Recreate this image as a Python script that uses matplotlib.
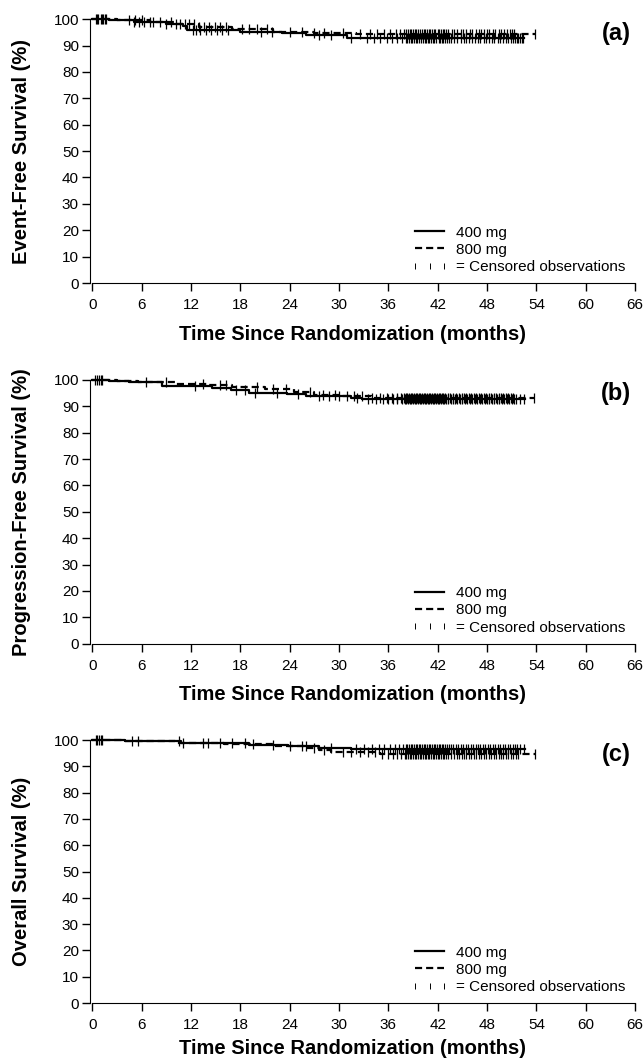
import numpy as np
import matplotlib
matplotlib.use('Agg')
import matplotlib.pyplot as plt
from matplotlib.lines import Line2D

plt.rcParams['font.family'] = ['Liberation Sans', 'DejaVu Sans']

# ---------------- data ----------------
xticks = list(range(0, 67, 6))
yticks = list(range(0, 101, 10))

ylabels = ['Event-Free Survival (%)', 'Progression-Free Survival (%)', 'Overall Survival (%)']
tags = ['(a)', '(b)', '(c)']

# panel (a) event-free survival
a400_t = [0, 2, 5, 9, 11, 11.5, 18, 23, 26, 31, 52.5]
a400_s = [100, 99.5, 99, 98, 97.3, 95.8, 95.3, 94.8, 94, 93, 93]
a800_t = [0, 3, 7, 10, 13, 17, 22, 27, 32, 53.8]
a800_s = [100, 99.5, 98.8, 98, 97.2, 96.2, 95.3, 94.6, 94.2, 94.2]
a400_c = [0.4, 0.7, 1.0, 1.3, 1.7, 5.0, 5.6, 6.3, 7.4, 8.2, 9.0, 10.2, 12.2, 12.6, 13.1,
          13.8, 14.4, 15.1, 15.8, 16.5, 20.5, 21.8, 27.5, 29.0, 31.5, 33.4, 34.2, 35.0,
          35.8, 36.4, 37.0, 37.6, 38.1, 38.3, 38.5, 38.7, 38.9, 39.1, 39.3, 39.5, 39.7,
          40.0, 40.2, 40.4, 40.6, 40.8, 41.0, 41.2, 41.4, 41.6, 41.8, 42.1, 42.3, 42.5,
          42.7, 42.9, 43.1, 43.4, 43.6, 44.0, 44.4, 44.8, 45.2, 45.5, 45.8, 46.2, 46.5,
          46.9, 47.2, 47.6, 47.9, 48.3, 48.6, 48.9, 49.3, 49.6, 50.0, 50.3, 50.6, 50.9,
          51.2, 51.4, 51.6, 51.8, 52.0, 52.2, 52.4]
a800_c = [0.6, 1.1, 1.5, 4.4, 5.2, 6.0, 7.0, 9.5, 10.6, 11.2, 11.8, 12.4, 13.0, 13.6,
          14.2, 14.9, 15.5, 16.2, 18.2, 19.0, 20.0, 21.2, 24.0, 25.5, 27.0, 28.2, 30.5,
          32.5, 33.8, 34.6, 35.5, 36.2, 36.9, 37.4, 37.9, 38.2, 38.4, 38.6, 38.8, 39.0,
          39.2, 39.4, 39.6, 39.9, 40.1, 40.3, 40.5, 40.7, 40.9, 41.1, 41.3, 41.5, 41.7,
          42.0, 42.2, 42.4, 42.6, 42.8, 43.0, 43.3, 43.7, 44.0, 44.4, 44.8, 45.1, 45.5,
          45.9, 46.2, 46.6, 47.0, 47.3, 47.6, 48.0, 48.3, 48.7, 49.0, 49.4, 49.7, 50.1,
          50.4, 50.8, 51.0, 51.3, 53.8]

# panel (b) progression-free survival
b400_t = [0, 2, 4.4, 8.5, 14.5, 16.8, 19, 23.7, 26, 31.5, 32.8, 52.6]
b400_s = [100, 99.5, 99, 97.5, 96.8, 96, 95.2, 94.8, 94, 93.3, 92.7, 92.7]
b800_t = [0, 3, 5.5, 10, 14, 17, 21, 24.5, 27, 30, 34, 53.7]
b800_s = [100, 99.5, 99, 98.5, 98, 97.2, 96.5, 95.3, 94.4, 94, 93, 93]
b400_c = [0.3, 0.8, 1.2, 6.5, 12.5, 17.5, 18.5, 19.8, 22.5, 25.0, 27.5, 28.8, 30.0, 31.0,
          32.2, 33.5, 34.5, 35.3, 36.0, 36.6, 37.1, 37.6, 38.0, 38.2, 38.4, 38.6, 38.8,
          39.0, 39.2, 39.4, 39.6, 39.8, 40.0, 40.2, 40.4, 40.6, 40.8, 41.0, 41.2, 41.4,
          41.6, 41.8, 42.0, 42.2, 42.4, 42.6, 42.8, 43.0, 43.3, 43.6, 43.8, 44.1, 44.4,
          44.7, 45.0, 45.3, 45.6, 45.9, 46.2, 46.5, 46.8, 47.1, 47.4, 47.7, 48.0, 48.3,
          48.6, 48.9, 49.2, 49.5, 49.8, 50.1, 50.4, 50.7, 51.0, 51.3, 51.5, 52.0, 52.5]
b800_c = [0.5, 1.0, 9.0, 13.5, 15.5, 16.2, 20.0, 22.0, 23.5, 26.5, 28.0, 29.5, 31.8, 32.8,
          34.0, 35.0, 35.8, 36.4, 37.0, 37.5, 37.9, 38.1, 38.3, 38.5, 38.7, 38.9, 39.1,
          39.3, 39.5, 39.7, 39.9, 40.1, 40.3, 40.5, 40.7, 40.9, 41.1, 41.3, 41.5, 41.7,
          41.9, 42.1, 42.3, 42.5, 42.7, 42.9, 43.2, 43.5, 43.9, 44.2, 44.6, 44.9, 45.2,
          45.5, 45.8, 46.1, 46.4, 46.7, 47.0, 47.3, 47.6, 47.9, 48.2, 48.5, 48.8, 49.1,
          49.4, 49.7, 50.0, 50.3, 50.6, 50.9, 51.2, 53.7]

# panel (c) overall survival
c400_t = [0, 3.9, 10.8, 19, 23.8, 27.5, 31.5, 52.6]
c400_s = [100, 99.5, 99, 98.2, 97.6, 97, 96.4, 96.4]
c800_t = [0, 4, 10, 16, 22, 26, 27.5, 29, 35, 53.8]
c800_s = [100, 99.6, 99, 98.5, 97.8, 97, 96.3, 95.5, 94.8, 94.5]
c400_c = [0.4, 0.8, 1.2, 5.5, 10.5, 13.5, 15.5, 17.0, 18.5, 22.0, 25.5, 26.0, 29.0, 32.0,
          33.0, 34.0, 34.8, 35.5, 36.2, 36.8, 37.3, 37.8, 38.1, 38.3, 38.5, 38.7, 38.9,
          39.1, 39.3, 39.5, 39.7, 39.9, 40.1, 40.3, 40.5, 40.7, 40.9, 41.1, 41.3, 41.5,
          41.7, 41.9, 42.1, 42.3, 42.5, 42.7, 42.9, 43.1, 43.4, 43.6, 43.9, 44.2, 44.5,
          44.8, 45.1, 45.4, 45.7, 46.0, 46.3, 46.6, 46.9, 47.2, 47.5, 47.8, 48.1, 48.4,
          48.7, 49.0, 49.3, 49.6, 49.9, 50.2, 50.5, 50.8, 51.1, 51.4, 51.7, 52.0, 52.5]
c800_c = [0.6, 1.0, 4.8, 11.0, 14.0, 19.5, 24.0, 27.0, 28.2, 30.5, 31.5, 32.5, 33.5, 34.4,
          35.2, 35.9, 36.5, 37.0, 37.5, 38.0, 38.2, 38.4, 38.6, 38.8, 39.0, 39.2, 39.4,
          39.6, 39.8, 40.0, 40.2, 40.4, 40.6, 40.8, 41.0, 41.2, 41.4, 41.6, 41.8, 42.0,
          42.2, 42.4, 42.6, 42.8, 43.0, 43.3, 43.6, 44.0, 44.3, 44.6, 44.9, 45.2, 45.5,
          45.8, 46.1, 46.4, 46.7, 47.0, 47.3, 47.6, 47.9, 48.2, 48.5, 48.8, 49.1, 49.4,
          49.7, 50.0, 50.3, 50.6, 50.9, 51.2, 51.5, 51.8, 53.8]

panels = [
    (a400_t, a400_s, a400_c, a800_t, a800_s, a800_c),
    (b400_t, b400_s, b400_c, b800_t, b800_s, b800_c),
    (c400_t, c400_s, c400_c, c800_t, c800_s, c800_c),
]


def surv_at(t, s, c):
    idx = np.searchsorted(np.array(t), np.array(c), side='right') - 1
    return np.array(s)[idx]


fig = plt.figure(figsize=(6.44, 10.64), dpi=100)
boxes = [(0.1398, 0.734, 0.8462, 0.248),
         (0.1398, 0.395, 0.8462, 0.248),
         (0.1398, 0.0573, 0.8462, 0.2472)]
xlab_y = [-0.16, -0.155, -0.137]
dash = (0, (3.2, 1.8))

for i, (box, p) in enumerate(zip(boxes, panels)):
    t4, s4, c4, t8, s8, c8 = p
    ax = fig.add_axes(box)
    ax.step(t4, s4, where='post', color='black', lw=1.6, clip_on=False)
    ax.step(t8, s8, where='post', color='black', lw=1.6, ls=dash, clip_on=False)
    ax.plot(c4, surv_at(t4, s4, c4), ls='none', marker='|', ms=7, mew=0.9,
            color='black', clip_on=False)
    ax.plot(c8, surv_at(t8, s8, c8), ls='none', marker='|', ms=7, mew=0.9,
            color='black', clip_on=False)

    ax.set_xlim(-0.3, 66)
    ax.set_ylim(0, 100)
    ax.set_xticks(xticks)
    ax.set_yticks(yticks)
    ax.spines['top'].set_visible(False)
    ax.spines['right'].set_visible(False)
    ax.spines['bottom'].set_bounds(0, 66)
    ax.tick_params(direction='out', length=6, width=1, labelsize=11, pad=2)
    ax.tick_params(axis='x', pad=5)
    ax.set_ylabel(ylabels[i], fontsize=14.5, fontweight='bold')
    ax.yaxis.set_label_coords(-0.108, 0.5)
    ax.set_xlabel('Time Since Randomization (months)', fontsize=14.5,
                  fontweight='bold')
    ax.xaxis.set_label_coords(0.482, xlab_y[i])
    ax.text(0.965, 0.99, tags[i], transform=ax.transAxes, ha='center', va='top',
            fontsize=17, fontweight='bold')

    handles = [Line2D([], [], color='black', lw=1.6),
               Line2D([], [], color='black', lw=1.6, ls=dash),
               Line2D([], [], color='black', ls='none', marker='|', ms=5, mew=0.7)]
    ax.legend(handles, ['400 mg', '800 mg', '= Censored observations'],
              loc='lower right', bbox_to_anchor=(1.0, 0.0), frameon=False,
              fontsize=11, numpoints=3, handlelength=2.5, handletextpad=0.5,
              labelspacing=0.2, borderaxespad=0.2)

fig.savefig('out.png', dpi=100)
